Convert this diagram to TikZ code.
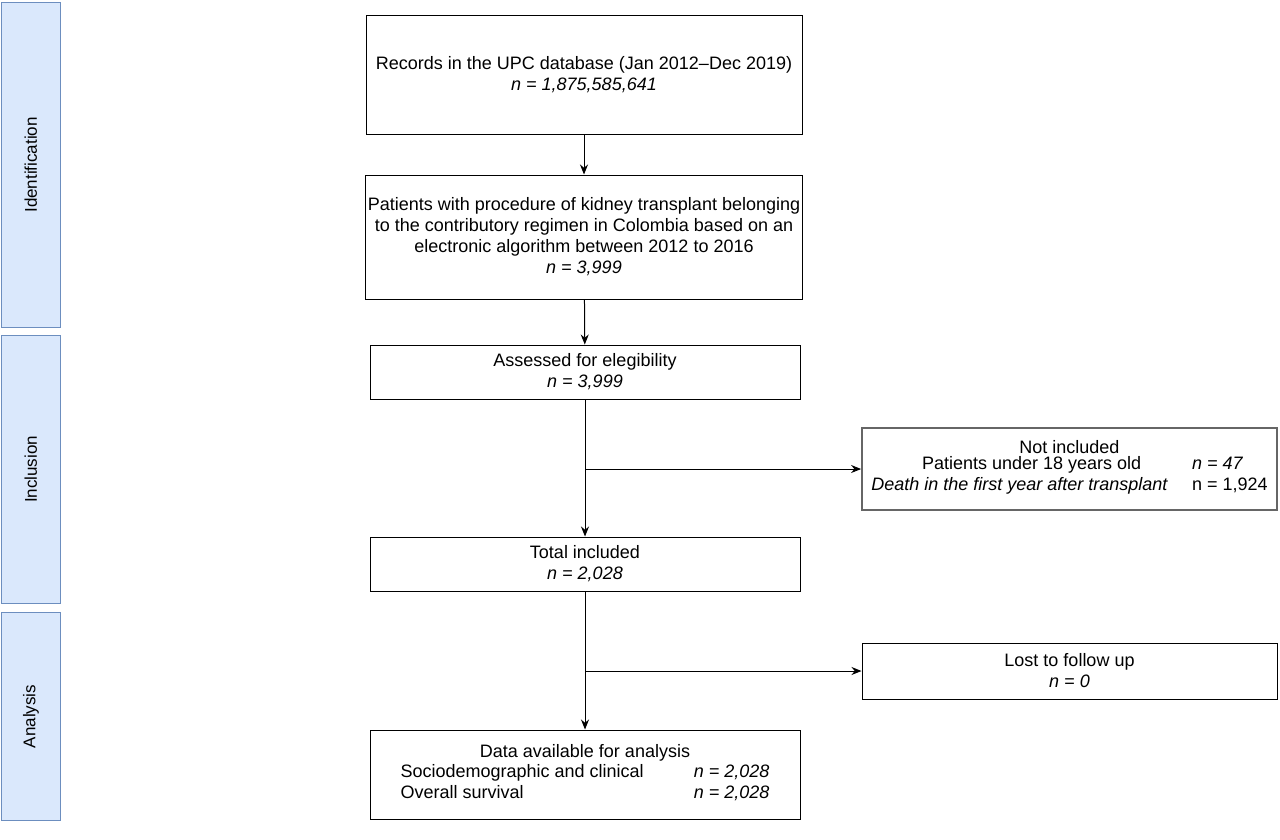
\documentclass[tikz,border=0pt]{standalone}
\usepackage{fontspec}
\setmainfont{Liberation Sans}
\usetikzlibrary{arrows.meta,positioning,calc}
\definecolor{phasefill}{RGB}{218,232,252}
\definecolor{phaseline}{RGB}{108,142,191}

\tikzset{
    phasebar/.style={draw=phaseline, fill=phasefill, line width=0.8pt, minimum width=59pt, anchor=north west},
    flowbox/.style={draw=black, line width=1pt, align=center, font=\fontsize{18}{21}\selectfont, inner sep=2pt},
    sidebox/.style={draw=black!60, line width=1.8pt, align=center, font=\fontsize{18}{21}\selectfont, inner sep=2pt},
    flow/.style={-{Stealth[length=10pt,width=8pt]}, line width=1pt}
}

\begin{document}
\begin{tikzpicture}[x=1pt, y=-1pt]
    \useasboundingbox (0,0) rectangle (1280,839);

    % Phase bars
    \node[phasebar, minimum height=325pt] (ident) at (1,2) {};
    \node[phasebar, minimum height=268pt] (incl) at (1,335) {};
    \node[phasebar, minimum height=208pt] (anal) at (1,612) {};
    \foreach \bar/\txt in {ident/Identification, incl/Inclusion, anal/Analysis}
        \node[rotate=90, font=\fontsize{17}{20}\selectfont] at (\bar.center) {\txt};

    % Main column
    \node[flowbox, minimum width=436pt, minimum height=119pt] (records) at (584,74.5)
        {Records in the UPC database (Jan 2012--Dec 2019)\\ \textit{n = 1,875,585,641}};
    \node[flowbox, minimum width=432pt, minimum height=124pt] (patients) at (584,237)
        {Patients with procedure of kidney transplant belonging\\
         to the contributory regimen in Colombia based on an\\
         electronic algorithm between 2012 to 2016\\ \textit{n = 3,999}};
    \node[flowbox, minimum width=430pt, minimum height=54pt] (assessed) at (585,372)
        {Assessed for elegibility\\ \textit{n = 3,999}};
    \node[flowbox, minimum width=430pt, minimum height=54pt] (total) at (585,564)
        {Total included\\ \textit{n = 2,028}};
    \node[flowbox, minimum width=430pt, minimum height=89pt] (data) at (585,774.5)
        {Data available for analysis\\
         \begin{tabular}{@{}l@{\hspace{50pt}}l@{}}
         Sociodemographic and clinical & \textit{n = 2,028}\\
         Overall survival & \textit{n = 2,028}
         \end{tabular}};

    % Side boxes
    \node[sidebox, minimum width=415pt, minimum height=82pt] (excluded) at (1069.5,469)
        {Not included\\
         \begin{tabular}{@{}l@{\hspace{24pt}}l@{}}
         \multicolumn{1}{c}{Patients under 18 years old} & \textit{n = 47}\\
         \textit{Death in the first year after transplant} & n = 1,924
         \end{tabular}};
    \node[flowbox, minimum width=415pt, minimum height=56pt] (lost) at (1069.5,671)
        {Lost to follow up\\ \textit{n = 0}};

    % Connectors
    \draw[flow] (records) -- (patients);
    \draw[flow] (patients) -- (assessed);
    \draw[flow] (assessed) -- (total);
    \draw[flow] (total) -- (data);
    \draw[flow] (assessed.south |- excluded.west) -- (excluded.west);
    \draw[flow] (total.south |- lost.west) -- (lost.west);
\end{tikzpicture}
\end{document}
